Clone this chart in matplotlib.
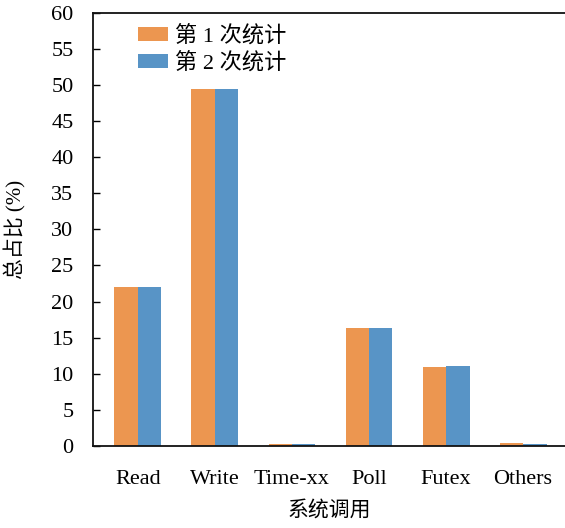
import matplotlib
matplotlib.use("Agg")
import matplotlib.pyplot as plt
import numpy as np

plt.rcParams['font.family'] = ['Liberation Serif', 'Noto Sans CJK SC']

categories = ["Read", "Write", "Time-xx", "Poll", "Futex", "Others"]
run1 = [22.0, 49.4, 0.3, 16.4, 10.9, 0.4]
run2 = [22.0, 49.4, 0.3, 16.4, 11.1, 0.3]
series_names = ["第 1 次统计", "第 2 次统计"]
colors = ["#EC9650", "#5894C6"]

fig = plt.figure(figsize=(5.65, 5.28), dpi=100)
ax = fig.add_axes([0.1646, 0.1553, 0.8354, 0.8210])

x = np.arange(len(categories))
w = 0.305
ax.bar(x - w / 2, run1, width=w, color=colors[0], label=series_names[0])
ax.bar(x + w / 2, run2, width=w, color=colors[1], label=series_names[1])

ax.set_xlim(-0.584, 5.545)
ax.set_ylim(0, 60)
ax.set_yticks(np.arange(0, 61, 5))
ax.set_xticks(x)
ax.set_xticklabels(categories)
ax.tick_params(axis='y', direction='in', length=5, width=1, labelsize=16, pad=14)
ax.tick_params(axis='x', length=0, labelsize=16, pad=17)

for s in ['left', 'bottom', 'top']:
    ax.spines[s].set_linewidth(1.3)
    ax.spines[s].set_color('#111111')
ax.spines['right'].set_visible(False)

ax.set_ylabel("总占比 (%)", fontsize=15, labelpad=18)
ax.set_xlabel("系统调用", fontsize=15, labelpad=9)

ax.legend(loc='upper left', bbox_to_anchor=(0.067, 1.0), frameon=False,
          fontsize=16, handlelength=1.35, handleheight=0.6,
          handletextpad=0.35, labelspacing=0.25, borderaxespad=0.18)

fig.savefig("out.png", dpi=100)
